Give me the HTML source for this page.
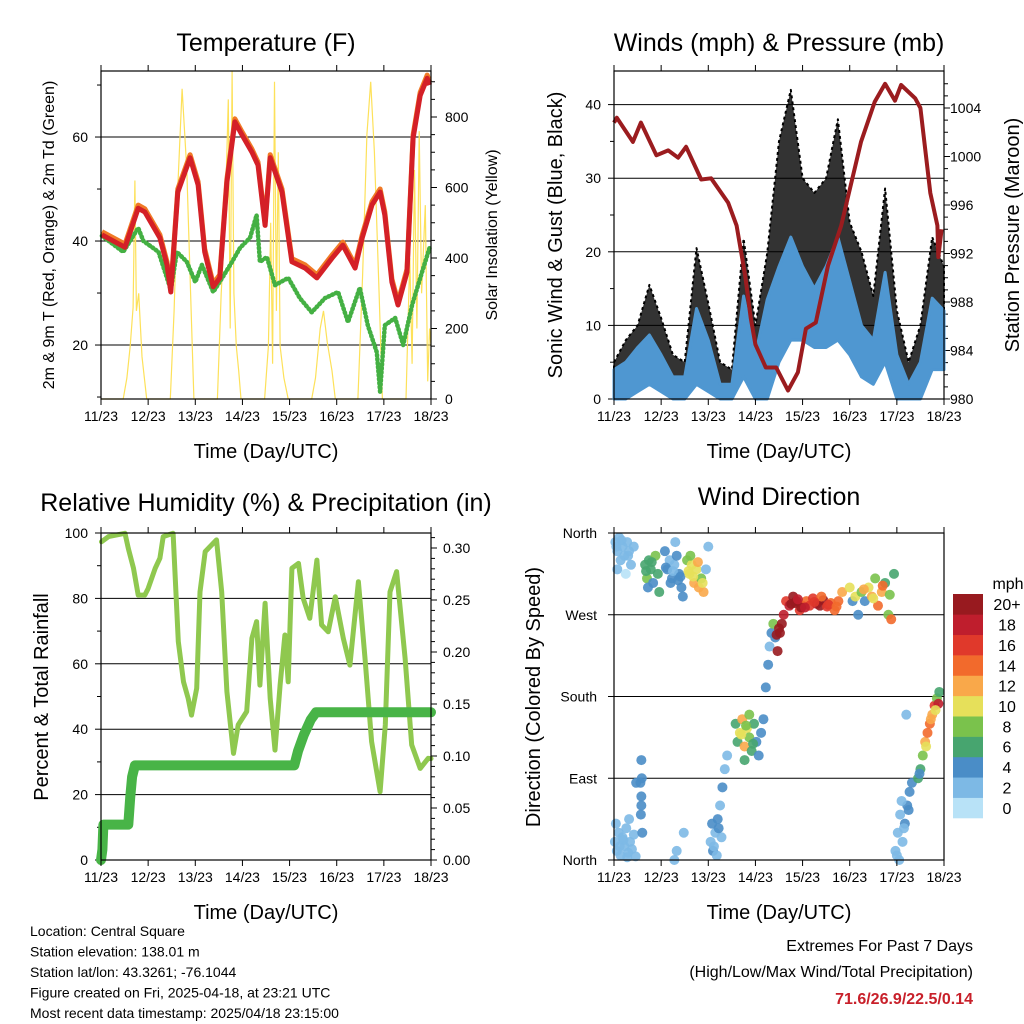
<!DOCTYPE html>
<html><head><meta charset="utf-8"><style>
html,body{margin:0;padding:0;background:#fff;}
svg{display:block;font-family:"Liberation Sans",sans-serif;}
</style></head><body>
<svg id="chart" width="1024" height="1024" viewBox="0 0 1024 1024" xmlns="http://www.w3.org/2000/svg"></svg>
<script>
// ---------- DATA ----------
const dayLabels = ["11/23","12/23","13/23","14/23","15/23","16/23","17/23","18/23"];
// Temperature (F)
const tempTimes = [0.02,0.51,0.79,0.93,1.25,1.4,1.48,1.63,1.89,2.06,2.2,2.38,2.52,2.67,2.84,2.99,3.2,3.33,3.48,3.59,3.84,4.05,4.33,4.58,4.9,5.13,5.39,5.54,5.75,5.92,6.02,6.17,6.3,6.49,6.62,6.77,6.92,6.97];
const tempValues = [41.2,38.8,46.3,45.6,40.6,35.4,30.2,49.4,56,50.8,37.9,31.2,32.9,51.3,62.9,60.4,57.1,54.6,43,56,49.4,36,34.8,32.9,36.7,39.2,34.8,40.6,47,49.4,45,32.1,27.7,34,59.8,68,71.3,70];
const dewTimes = [0.02,0.47,0.79,0.9,1.22,1.36,1.48,1.61,1.82,2.0,2.14,2.38,2.57,2.78,2.95,3.16,3.3,3.37,3.52,3.69,3.97,4.22,4.47,4.75,5.03,5.24,5.49,5.66,5.85,5.92,6.02,6.24,6.41,6.6,6.81,6.97];
const dewValues = [41,37.9,42.5,40,37.9,34,30.6,37.9,36,32.1,35.4,30.2,32.9,36,38.7,40.6,45,36,36.9,31.5,32.9,29,26.3,29,30.2,24.4,31,23.8,18.6,11,23.8,25.2,20,27.7,34,38.7];
const solarTimes = [0,0.47,0.55,0.62,0.68,0.72,0.75,0.8,0.87,0.97,1.47,1.55,1.63,1.72,1.82,1.9,1.97,2.47,2.55,2.63,2.7,2.74,2.78,2.82,2.87,2.92,2.97,3.47,3.55,3.6,3.64,3.68,3.72,3.76,3.8,3.88,3.97,4.47,4.55,4.65,4.72,4.8,4.9,4.97,5.45,5.55,5.64,5.72,5.8,5.9,5.97,6.47,6.55,6.6,6.65,6.7,6.75,6.8,6.88,6.93,6.97,7.0];
const solarValues = [0,0,60,150,260,620,250,300,120,0,0,250,600,880,650,300,0,0,300,500,850,200,930,300,150,80,0,0,150,500,100,900,250,700,150,60,0,0,60,200,250,160,80,0,0,350,750,900,700,300,0,0,400,100,650,200,760,300,550,50,200,150];
// Winds (mph) & pressure (mb)
const windTimes = [0,0.25,0.5,0.75,1,1.25,1.5,1.75,2,2.25,2.5,2.75,3,3.25,3.5,3.75,4,4.25,4.5,4.75,5,5.25,5.5,5.75,6,6.25,6.5,6.75,7];
const windMax = [4,5,7,8.7,6,3,3,12.3,8,2,2,14,6,13.5,18,22,18,15,18,22,16,10,8,17.2,6,2,5,13.7,12];
const windMin = [0,0,1,2,1,0,0,2,1,0,0,3,0,0,5,8,8,7,7,8,6,3,2,5,0,0,0,4,4];
const gustMax = [5,8,10,15.5,11,6,5,20.5,13,5,4,21.8,10,19.8,35,42,30,28,30,38,24,20,14,28.6,12,5,10,22,18];
const presTimes = [0,0.06,0.4,0.57,0.9,1.15,1.36,1.53,1.85,2.06,2.42,2.6,2.78,2.9,3.0,3.22,3.44,3.69,3.9,4.07,4.28,4.54,4.82,5.24,5.53,5.75,5.96,6.09,6.39,6.5,6.71,6.86,6.88,6.95];
const presValues = [1002.8,1003.2,1001.2,1002.8,1000.1,1000.5,999.9,1000.8,998.1,998.2,996.2,994.3,990.2,986.7,984.5,982.6,982.6,980.7,982.2,985.8,986.3,991,994.3,1001.2,1004.5,1006,1004.6,1005.9,1004.8,1004,997,994.3,991.7,994];
// Relative humidity (%) & precipitation (in)
const rhTimes = [0.01,0.16,0.51,0.58,0.69,0.79,0.93,1.0,1.15,1.25,1.32,1.53,1.64,1.75,1.85,1.92,2.03,2.1,2.21,2.45,2.56,2.67,2.81,2.91,3.09,3.2,3.3,3.37,3.48,3.59,3.69,3.8,3.9,3.97,4.05,4.19,4.29,4.43,4.58,4.68,4.82,4.97,5.14,5.28,5.46,5.6,5.74,5.92,6.03,6.13,6.27,6.45,6.59,6.77,6.94,7.0];
const rhValues = [97.3,98.9,99.9,95.3,89.2,81,81,83,89.2,92.3,98.9,99.9,66.8,54.5,49.4,44.3,52.5,82,94.3,97.9,82,51.5,32.6,41.3,45.4,67.8,72.9,53.5,78.5,49.4,33.6,53.5,68.8,54.5,89.2,90.7,80,73.9,91.7,71.9,69.8,80.5,67.8,59.6,85.1,61.7,36.2,20.9,41.3,82,88.2,61.7,35.2,28,31.1,31];
const precipTimes = [0,0.03,0.05,0.58,0.62,0.66,0.72,4.1,4.18,4.3,4.45,4.56,7.0];
const precipValues = [0,0.01,0.034,0.034,0.06,0.08,0.091,0.091,0.105,0.12,0.135,0.142,0.142];
// Wind direction (deg) colored by speed (mph)
const dirTimes = [0.03,0.07,0.11,0.14,0.18,0.22,0.28,0.32,0.36,0.42,0.07,0.25,0.05,0.16,0.3,
 0.66,0.7,0.74,0.78,0.83,0.88,0.93,0.72,0.96,0.68,0.8,
 1.08,1.13,1.18,1.23,1.28,1.33,1.38,1.43,1.2,1.46,1.3,1.1,1.25,1.36,1.41,
 1.55,1.6,1.65,1.7,1.75,1.8,1.85,1.9,1.62,1.95,2.0,1.58,1.68,1.78,1.88,
 0.02,0.06,0.1,0.14,0.18,0.22,0.26,0.3,0.34,0.38,0.42,0.46,0.04,0.32,0.12,0.2,0.28,
 0.57,0.58,0.59,0.58,0.6,0.56,0.47,0.58,
 2.05,2.1,2.15,2.2,2.25,2.3,2.35,2.4,2.18,2.08,2.28,1.28,1.33,1.48,2.12,2.22,
 2.58,2.62,2.67,2.72,2.77,2.82,2.87,2.92,2.97,3.02,3.07,3.12,3.17,2.77,2.87,2.7,2.8,2.95,
 3.22,3.27,3.3,3.34,3.38,3.42,3.47,3.52,3.56,3.6,3.45,3.5,
 3.65,3.72,3.8,3.87,3.94,4.0,4.08,4.15,4.22,4.3,4.37,4.44,4.52,4.6,4.68,4.76,3.84,3.97,4.4,4.84,3.76,3.9,4.05,4.25,4.55,4.72,
 5.0,5.06,5.12,5.18,5.25,5.32,5.4,5.47,5.54,5.6,5.68,5.75,5.82,5.88,5.94,5.3,5.5,5.7,5.85,
 5.97,6.02,6.07,6.12,6.17,6.22,6.27,6.32,6.0,6.1,6.05,6.2,6.15,6.25,
 6.45,6.5,6.55,6.6,6.65,6.7,6.75,6.8,6.85,6.9,6.88,6.82,6.48,6.72,6.62];
const dirValues = [350,340,355,330,345,335,350,340,325,345,320,315,345,352,335,
 325,310,330,320,305,335,315,300,295,318,328,
 340,320,330,310,325,335,315,300,305,290,350,322,318,308,312,
 330,315,325,305,320,300,310,295,335,320,345,318,312,328,305,
 20,10,30,5,25,15,35,8,20,12,28,4,40,45,15,22,3,
 50,70,90,110,30,85,85,60,
 20,10,30,45,60,80,100,115,5,40,25,0,10,30,15,35,
 150,130,140,155,125,145,135,120,150,130,115,140,155,110,160,138,148,128,
 190,215,235,250,260,245,230,250,260,270,248,255,
 285,280,290,285,275,280,285,280,288,282,280,286,279,283,275,285,283,278,290,295,282,287,278,284,281,279,
 300,285,290,270,295,285,300,290,310,280,295,305,270,265,315,298,288,302,292,
 10,30,50,20,40,60,75,85,5,65,0,160,35,55,
 90,100,115,130,140,150,160,170,178,185,172,165,95,155,125];
const dirSpeeds = [1,1,2,1,2,1,1,2,1,1,1,0,1,2,1,
 6,7,5,6,4,7,6,4,5,6,5,
 3,3,2,3,2,3,3,4,3,4,2,3,2,3,3,
 8,10,9,11,10,12,8,12,7,2,1,10,9,11,9,
 1,1,2,1,2,1,2,1,2,1,2,1,2,1,2,1,1,
 4,4,4,3,3,4,3,4,
 2,3,2,3,2,3,2,2,1,3,2,1,1,1,2,3,
 5,6,9,12,11,10,8,6,5,4,4,4,3,6,7,9,8,6,
 3,3,2,3,8,4,20,20,20,18,20,19,
 15,17,20,20,16,15,14,16,15,17,19,20,16,14,13,13,20,19,14,12,20,18,17,15,16,14,
 10,4,9,3,7,4,10,12,8,13,12,6,7,14,5,11,9,13,8,
 1,2,2,1,3,3,4,4,1,2,1,1,2,3,
 5,6,8,11,13,14,12,16,8,6,18,10,3,12,9];
const speedBins = ["0","2","4","6","8","10","12","14","16","18","20+"];
const speedColors = ["#b8e2f7","#7db9e5","#4a8dc7","#47a56f","#7ac24c","#e6e05a","#f9a84a","#f26a2c","#e0392b","#bf1e2d","#981a1f"];

// ---------- HELPERS ----------
const NS = "http://www.w3.org/2000/svg";
const svg = document.getElementById("chart");
function mk(tag, attrs, parent) {
  const el = document.createElementNS(NS, tag);
  for (const k in attrs) el.setAttribute(k, attrs[k]);
  (parent || svg).appendChild(el);
  return el;
}
function txt(str, x, y, size, anchor, parent, extra) {
  const t = mk("text", Object.assign({x:x, y:y, "font-size":size, "text-anchor":anchor||"start", fill:"#000"}, extra||{}), parent);
  t.textContent = str;
  return t;
}
function pathFrom(xs, ys) {
  return xs.map((x,i)=>(i?"L":"M")+x.toFixed(1)+","+ys[i].toFixed(1)).join("");
}
const W = 330, DAYS = 7;
function makeX(x0){ return d => x0 + d*W/DAYS; }
function frame(name) {
  const g = mk("g", {});
  
  
  return g;
}
function xAxis(g, x0, yb, yt) {
  const xs = makeX(x0);
  dayLabels.forEach((lab,i)=>{
    const x = xs(i);
    mk("line",{x1:x,y1:yb,x2:x,y2:yb+6,stroke:"#000","stroke-width":1},g);
    mk("line",{x1:x,y1:yt,x2:x,y2:yt-6,stroke:"#000","stroke-width":1},g);
    const t = txt(lab, x, yb+22, 14, "middle", g);
    
    
  });
  const tt = txt("Time (Day/UTC)", x0+W/2, yb+59, 20, "middle", g);
  
  
}
function border(g, x0, yt, yb) {
  const r = mk("rect",{x:x0,y:yt,width:W,height:yb-yt,fill:"none",stroke:"#000","stroke-width":1.2},g);
  
  
}
function grid(g, x0, y) {
  const l = mk("line",{x1:x0,y1:y,x2:x0+W,y2:y,stroke:"#000","stroke-width":1},g);
  
  
}
function tickL(g, x0, y, len){ mk("line",{x1:x0,y1:y,x2:x0-len,y2:y,stroke:"#000","stroke-width":1},g); }
function tickR(g, x1, y, len){ mk("line",{x1:x1,y1:y,x2:x1+len,y2:y,stroke:"#000","stroke-width":1},g); }
function rotTitle(g, str, x, y, size, name) {
  const t = txt(str, x, y, size, "middle", g, {transform:"rotate(-90 "+x+" "+y+")"});
  
  
}
function title(g, str, x, y, name) {
  const t = txt(str, x, y, 25, "middle", g);
  
  
}

// ---------- PANEL 1: TEMPERATURE ----------
(function(){
  const x0 = 101, yt = 71, yb = 399;
  const xs = makeX(x0);
  const yT = t => 399 - (t - 9.62)*5.2;
  const yS = s => 399 - s*0.3525;
  const g = frame("temperature-panel");
  title(g, "Temperature (F)", 266, 51, "temperature-title");
  [20,40,60].forEach(v=>grid(g,x0,yT(v)));
  [10,20,30,40,50,60,70].forEach(v=>tickL(g,x0,yT(v),[20,40,60].includes(v)?6:4));
  [20,40,60].forEach(v=>{const t=txt(String(v),88,yT(v)+5,14,"end",g);
     });
  for(let s=0;s<=900;s+=50) tickR(g,x0+W,yS(s),s%200===0?6:4);
  [0,200,400,600,800].forEach(v=>{const t=txt(String(v),445,yS(v)+5,14,"start",g);
     });
  const sol = mk("path",{d:pathFrom(solarTimes.map(xs),solarValues.map(yS)),fill:"none",stroke:"#fde15a","stroke-width":1.2},g);
  
  
  const dew = mk("path",{d:pathFrom(dewTimes.map(xs),dewValues.map(yT)),fill:"none",stroke:"#44b043","stroke-width":4.5,"stroke-dasharray":"1,3","stroke-linecap":"round","stroke-linejoin":"round"},g);
  
  
  const t9 = mk("path",{d:pathFrom(tempTimes.map(xs),tempValues.map(v=>yT(v+0.6))),fill:"none",stroke:"#f07a26","stroke-width":5,"stroke-linejoin":"round"},g);
  
  
  const t2 = mk("path",{d:pathFrom(tempTimes.map(xs),tempValues.map(yT)),fill:"none",stroke:"#d42027","stroke-width":5,"stroke-linejoin":"round"},g);
  
  
  border(g,x0,yt,yb);
  xAxis(g,x0,yb,yt);
  rotTitle(g,"2m & 9m T (Red, Orange) & 2m Td (Green)",54,235,16,"y-axis-title");
  rotTitle(g,"Solar Insolation (Yellow)",497,235,16,"y2-axis-title");
})();

// ---------- PANEL 2: WINDS & PRESSURE ----------
(function(){
  const x0 = 614, yt = 71, yb = 399;
  const xs = makeX(x0);
  const yW = v => 399 - v*7.36;
  const yP = p => 399 - (p-980)*12.125;
  const g = frame("winds-pressure-panel");
  title(g, "Winds (mph) & Pressure (mb)", 779, 51, "winds-title");
  [10,20,30,40].forEach(v=>grid(g,x0,yW(v)));
  for(let v=0;v<=40;v+=5) tickL(g,x0,yW(v),v%10===0?6:4);
  [0,10,20,30,40].forEach(v=>{const t=txt(String(v),601,yW(v)+5,14,"end",g);
     });
  for(let p=980;p<=1006;p++) tickR(g,x0+W,yP(p),p%4===0?6:4);
  [980,984,988,992,996,1000,1004].forEach(v=>{const t=txt(String(v),950,yP(v)+5,14,"start",g);
     });
  const txs = windTimes.map(xs);
  const rev = a => a.slice().reverse();
  const gust = mk("path",{d:pathFrom(txs,gustMax.map(yW))+pathFrom(rev(txs),rev(windMax).map(v=>yW(v*0.7))).replace("M","L")+"Z",fill:"#000","fill-opacity":0.8,stroke:"#000","stroke-width":2,"stroke-dasharray":"3,3","stroke-linejoin":"round"},g);
  
  
  const mean = mk("path",{d:pathFrom(txs,windMax.map(yW))+pathFrom(rev(txs),rev(windMin).map(yW)).replace("M","L")+"Z",fill:"#4f97d1",stroke:"#4f97d1","stroke-width":3,"stroke-linejoin":"round"},g);
  
  
  const pr = mk("path",{d:pathFrom(presTimes.map(xs),presValues.map(yP)),fill:"none",stroke:"#9b1c1f","stroke-width":4,"stroke-linejoin":"round"},g);
  
  
  border(g,x0,yt,yb);
  xAxis(g,x0,yb,yt);
  rotTitle(g,"Sonic Wind & Gust (Blue, Black)",562,235,20,"y-axis-title");
  rotTitle(g,"Station Pressure (Maroon)",1019,235,20,"y2-axis-title");
})();

// ---------- PANEL 3: RH & PRECIP ----------
(function(){
  const x0 = 101, yt = 533, yb = 860;
  const xs = makeX(x0);
  const yR = r => 860 - r*3.27;
  const yPr = p => 860 - p*1040;
  const g = frame("humidity-precip-panel");
  title(g, "Relative Humidity (%) & Precipitation (in)", 266, 511, "humidity-title");
  [20,40,60,80].forEach(v=>grid(g,x0,yR(v)));
  for(let v=0;v<=100;v+=10) tickL(g,x0,yR(v),v%20===0?6:4);
  [0,20,40,60,80,100].forEach(v=>{const t=txt(String(v),88,yR(v)+5,14,"end",g);
     });
  for(let i=0;i<=31;i++) tickR(g,x0+W,yPr(i/100),i%5===0?6:4);
  ["0.00","0.05","0.10","0.15","0.20","0.25","0.30"].forEach(v=>{const t=txt(v,443,yPr(parseFloat(v))+5,14,"start",g);
     });
  const rh = mk("path",{d:pathFrom(rhTimes.map(xs),rhValues.map(yR)),fill:"none",stroke:"#8fc84f","stroke-width":5,"stroke-linejoin":"round","stroke-linecap":"round"},g);
  
  
  const pc = mk("path",{d:pathFrom(precipTimes.map(xs),precipValues.map(yPr)),fill:"none",stroke:"#48b447","stroke-width":10,"stroke-linejoin":"round","stroke-linecap":"round"},g);
  
  
  border(g,x0,yt,yb);
  xAxis(g,x0,yb,yt);
  rotTitle(g,"Percent & Total Rainfall",48,697,20,"y-axis-title");
})();

// ---------- PANEL 4: WIND DIRECTION ----------
(function(){
  const x0 = 614, yt = 533, yb = 860;
  const xs = makeX(x0);
  const yD = d => 860 - d*327/360;
  const g = frame("wind-direction-panel");
  title(g, "Wind Direction", 779, 505, "wind-direction-title");
  [90,180,270].forEach(v=>grid(g,x0,yD(v)));
  const dirLabs = ["North","East","South","West","North"];
  dirLabs.forEach((lab,i)=>{
    tickL(g,x0,yD(i*90),6);
    const t=txt(lab,597,yD(i*90)+5,14,"end",g);
    
    
  });
  const pts = mk("g",{},g);
  
  
  dirTimes.forEach((d,i)=>{
    const bin = Math.min(10, Math.max(0, Math.round(dirSpeeds[i]/2)));
    const c = mk("circle",{cx:xs(d),cy:yD(dirValues[i]),r:5,fill:speedColors[bin],"fill-opacity":0.9},pts);
    
    
  });
  border(g,x0,yt,yb);
  xAxis(g,x0,yb,yt);
  rotTitle(g,"Direction (Colored By Speed)",540,697,20,"y-axis-title");
  const cb = mk("g",{},g);
  
  
  const h = 224/11;
  speedBins.forEach((lab,i)=>{
    const y = 818 - (i+1)*h;
    const r = mk("rect",{x:953,y:y,width:30,height:h+0.3,fill:speedColors[i]},cb);
    
    
    const t = txt(lab,1007,y+h/2+6,16,"middle",cb);
    
    
  });
  const u = txt("mph",1008,589,16,"middle",cb);
  
  
})();

// ---------- FOOTER ----------
(function(){
  const g = mk("g",{});
  
  
  ["Location: Central Square","Station elevation: 138.01 m","Station lat/lon: 43.3261; -76.1044",
   "Figure created on Fri, 2025-04-18, at 23:21 UTC","Most recent data timestamp: 2025/04/18 23:15:00"]
   .forEach((s,i)=>{const t=txt(s,30,936+i*20.5,14,"start",g);
      });
  const g2 = mk("g",{});
  
  
  const a = txt("Extremes For Past 7 Days",973,951,16,"end",g2);
  
  
  const b = txt("(High/Low/Max Wind/Total Precipitation)",973,977,16,"end",g2);
  
  
  const c = txt("71.6/26.9/22.5/0.14",973,1004,16,"end",g2,{fill:"#c8202a","font-weight":"bold"});
  
  
})();
</script>
</body></html>
